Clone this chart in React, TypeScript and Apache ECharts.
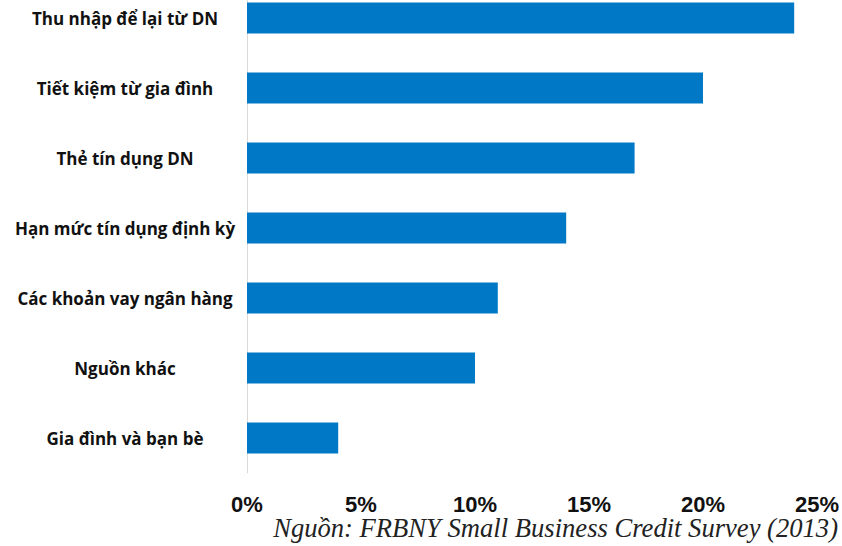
import React, { useEffect, useRef } from "react";
import * as echarts from "echarts";

const categories = [
  "Thu nhập để lại từ DN",
  "Tiết kiệm từ gia đình",
  "Thẻ tín dụng DN",
  "Hạn mức tín dụng định kỳ",
  "Các khoản vay ngân hàng",
  "Nguồn khác",
  "Gia đình và bạn bè",
];
const values = [24, 20, 17, 14, 11, 10, 4];
const sourceText = "Nguồn: FRBNY Small Business Credit Survey (2013)";

const SHIFT = 17;

export default function App() {
  const ref = useRef<HTMLDivElement>(null);
  useEffect(() => {
    if (!ref.current) return;
    const chart = echarts.init(ref.current, null, { renderer: "svg" });
    chart.setOption({
      animation: false,
      backgroundColor: "#ffffff",
      grid: { left: 247, right: 20, top: 0, bottom: 73, containLabel: false },
      xAxis: {
        type: "value",
        min: 0,
        max: 25,
        interval: 5,
        axisLine: { show: false },
        axisTick: { show: false },
        splitLine: { show: false },
        axisLabel: {
          formatter: "{value}%",
          fontFamily: "Liberation Sans, Arial",
          fontWeight: "bold",
          fontSize: 22,
          color: "#111111",
          margin: 20,
        },
      },
      yAxis: {
        type: "category",
        data: categories,
        inverse: true,
        axisLine: { show: true, lineStyle: { color: "#d9d9d9", width: 1 } },
        axisTick: { show: false },
        axisLabel: {
          align: "center",
          margin: 122,
          fontFamily: "Open Sans, Noto Sans, sans-serif",
          fontWeight: "bold",
          fontSize: 17,
          color: "#111111",
        },
      },
      series: [
        {
          type: "bar",
          data: values,
          barWidth: 31,
          itemStyle: { color: "#0078C6" },
        },
      ],
      graphic: [
        {
          type: "text",
          right: 4,
          top: 514 + SHIFT,
          style: {
            text: sourceText,
            font: "italic 26.6px 'Liberation Serif', 'Times New Roman', serif",
            fill: "#222222",
          },
        },
      ],
    });
    return () => chart.dispose();
  }, []);
  return (
    <div
      style={{
        position: "absolute",
        left: 0,
        top: 0,
        width: 842,
        height: 546,
        overflow: "hidden",
        background: "#fff",
      }}
    >
      <div
        ref={ref}
        style={{ position: "absolute", left: 0, top: -SHIFT, width: 842, height: 546 + SHIFT }}
      />
    </div>
  );
}
